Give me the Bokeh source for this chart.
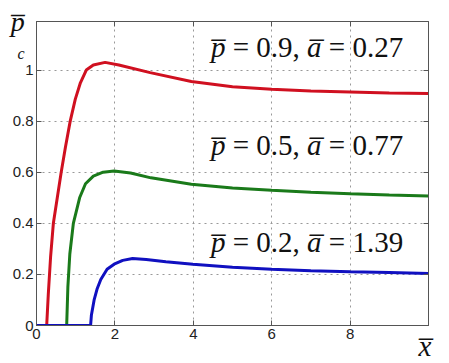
from bokeh.plotting import figure
from bokeh.models import Range1d, LinearAxis, FixedTicker, Label
from bokeh.embed import file_html
from bokeh.resources import INLINE

# curve p=0.9, a=0.27 (red)
red_x = [0, 0.26, 0.3, 0.36, 0.43, 0.53, 0.63, 0.74, 0.86, 0.99, 1.12, 1.27, 1.45, 1.75, 2.1, 2.9, 3.95, 5, 6, 7, 8, 9, 10]
red_y = [0, 0, 0.12, 0.27, 0.4, 0.5, 0.6, 0.7, 0.8, 0.886, 0.95, 1.0, 1.02, 1.03, 1.02, 0.99, 0.955, 0.935, 0.925, 0.918, 0.914, 0.91, 0.908]
# curve p=0.5, a=0.77 (green)
green_x = [0, 0.77, 0.8, 0.85, 0.94, 1.1, 1.25, 1.45, 1.7, 1.98, 2.4, 2.92, 3.95, 5, 6, 7, 8, 9, 10]
green_y = [0, 0, 0.15, 0.28, 0.4, 0.5, 0.555, 0.585, 0.6, 0.605, 0.597, 0.578, 0.553, 0.538, 0.529, 0.522, 0.516, 0.511, 0.507]
# curve p=0.2, a=1.39 (blue)
blue_x = [0, 1.38, 1.4, 1.47, 1.55, 1.64, 1.8, 1.98, 2.2, 2.45, 2.8, 3.3, 3.99, 5, 6, 7, 8, 9, 10]
blue_y = [0, 0, 0.04, 0.10, 0.145, 0.18, 0.22, 0.24, 0.255, 0.262, 0.258, 0.25, 0.24, 0.228, 0.22, 0.214, 0.21, 0.207, 0.204]

p_vals = ["0.9", "0.5", "0.2"]
a_vals = ["0.27", "0.77", "1.39"]
label_y = [1.092, 0.707, 0.327]
x_ticks = [0, 2, 4, 6, 8]
y_ticks = [0, 0.2, 0.4, 0.6, 0.8, 1]
y_tick_labels = ["0", "0.2", "0.4", "0.6", "0.8", "1"]

FS = 29
NB = "\u00a0"
p = figure(frame_width=392, frame_height=304, output_backend="svg", toolbar_location=None,
           x_range=Range1d(0, 10), y_range=Range1d(0, 1.19),
           min_border_left=34, min_border_right=8, min_border_top=21, min_border_bottom=36)
p.background_fill_color = "white"
p.border_fill_color = "white"
p.outline_line_color = "#555555"

for ax in (p.xaxis[0], p.yaxis[0]):
    ax.major_tick_in = 5
    ax.major_tick_out = 0
    ax.minor_tick_line_color = None
    ax.axis_line_color = "#555555"
    ax.major_tick_line_color = "#555555"
    ax.major_label_text_font = "Liberation Sans"
    ax.major_label_text_font_size = "15px"
    ax.major_label_text_color = "#222222"
    ax.major_label_standoff = 3

p.xaxis[0].ticker = FixedTicker(ticks=x_ticks)
p.yaxis[0].ticker = FixedTicker(ticks=y_ticks)
p.yaxis[0].major_label_overrides = {t: s for t, s in zip(y_ticks, y_tick_labels)}

# x axis title at the right end, below the tick labels
xa = p.xaxis[0]
xa.axis_label = "x\u0305" + NB
xa.axis_label_align = "end"
xa.axis_label_standoff = -12
xa.axis_label_text_font = "Liberation Serif"
xa.axis_label_text_font_style = "italic"
xa.axis_label_text_font_size = "29px"
xa.axis_label_text_color = "#111111"

# y axis title at the top end, drawn horizontally over the tick-label column
ya = p.yaxis[0]
ya.axis_label = "p\u0305"
ya.axis_label_align = "end"
ya.axis_label_orientation = "horizontal"
ya.axis_label_standoff = -15
ya.axis_label_text_baseline = "top"
ya.axis_label_text_font = "Liberation Serif"
ya.axis_label_text_font_style = "italic"
ya.axis_label_text_font_size = "28px"
ya.axis_label_text_color = "#111111"

right = LinearAxis(ticker=FixedTicker(ticks=y_ticks), major_tick_in=5, major_tick_out=0,
                   minor_tick_line_color=None, major_label_overrides={t: "" for t in y_ticks},
                   major_label_standoff=0,
                   axis_line_color="#555555", major_tick_line_color="#555555")
top = LinearAxis(ticker=FixedTicker(ticks=x_ticks), major_tick_in=5, major_tick_out=0,
                 minor_tick_line_color=None, major_label_overrides={t: "" for t in x_ticks},
                 major_label_standoff=0,
                 axis_line_color="#555555", major_tick_line_color="#555555")
p.add_layout(right, "right")
p.add_layout(top, "above")

p.xgrid.ticker = FixedTicker(ticks=x_ticks)
p.ygrid.ticker = FixedTicker(ticks=y_ticks)
p.grid.grid_line_dash = "dotted"
p.grid.grid_line_color = "#999999"
p.grid.grid_line_width = 1

p.line(red_x, red_y, line_color="#d01020", line_width=3)
p.line(green_x, green_y, line_color="#1a7a1a", line_width=3)
p.line(blue_x, blue_y, line_color="#1010c0", line_width=3)

w_it = 0.5 * FS
w_mid = 2.814 * FS
for pv, av, yy in zip(p_vals, a_vals, label_y):
    pieces = [("p\u0305", "italic", 0), (NB + "=" + NB + pv + "," + NB, "normal", w_it),
              ("a\u0305", "italic", w_it + w_mid), (NB + "=" + NB + av, "normal", 2 * w_it + w_mid)]
    for t, st, off in pieces:
        p.add_layout(Label(x=4.45, y=yy, x_offset=off, text=t, text_align="left",
                           text_baseline="alphabetic", text_font="Liberation Serif",
                           text_font_style=st, text_font_size=f"{FS}px", text_color="#111111"))

# subscript "c" of the y title, in the left side panel (not clipped to the frame)
p.add_layout(Label(x=17, y=264, x_units="screen", y_units="screen", text="c",
                   text_font="Liberation Serif", text_font_style="italic",
                   text_font_size="16px", text_color="#111111"), "left")

open("out.html", "w").write(file_html(p, INLINE))
